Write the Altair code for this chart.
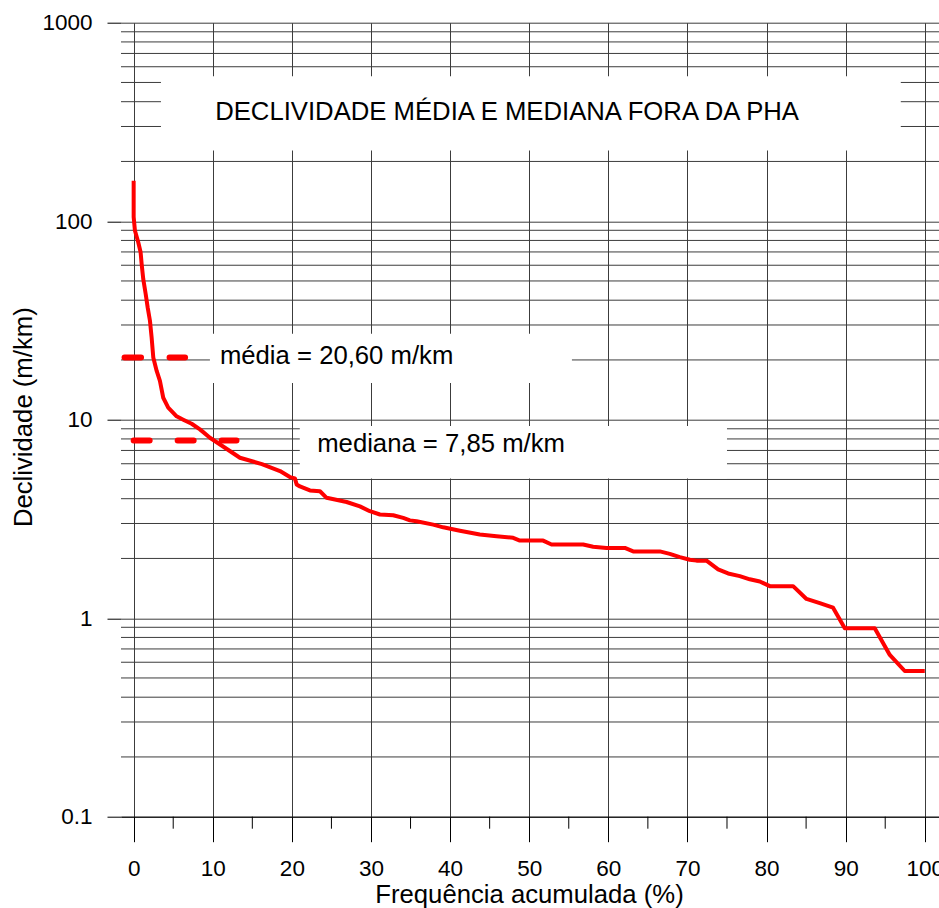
import altair as alt
import pandas as pd

# ---- data ----
freq = [0, 0, 0.16, 0.58, 0.88, 1.01, 1.21, 1.52, 1.77, 2.06,
        2.27, 2.48, 2.91, 3.32, 3.74, 4.37, 5.43, 6.27, 7.33, 8.38,
        9.64, 11.54, 13.43, 16.21, 18.50, 19.75, 20.38, 20.60, 21.02, 22.28,
        23.55, 24.39, 25.44, 26.92, 28.60, 29.86, 31.13, 32.81, 34.07, 34.92,
        35.76, 37.86, 39.13, 41.24, 43.76, 45.87, 47.97, 48.82, 51.76, 52.82,
        56.82, 58.08, 59.77, 62.09, 63.14, 66.51, 67.77, 69.04, 70.30, 71.15,
        72.41, 73.88, 75.14, 76.62, 77.88, 79.15, 80.41, 83.36, 85.05, 86.73,
        88.41, 89.89, 93.68, 95.58, 97.47, 100]
slope = [160, 105, 89.7, 78.3, 69.7, 60.9, 51.2, 43.0, 36.8, 31.5,
         26.0, 20.6, 17.6, 15.7, 12.9, 11.5, 10.4, 10.0, 9.54, 8.94,
         8.11, 7.22, 6.43, 5.97, 5.51, 5.14, 5.06, 4.72, 4.61, 4.40,
         4.36, 4.04, 3.96, 3.85, 3.66, 3.46, 3.33, 3.30, 3.20, 3.11,
         3.08, 2.96, 2.87, 2.76, 2.64, 2.59, 2.54, 2.46, 2.46, 2.35,
         2.35, 2.29, 2.26, 2.26, 2.17, 2.17, 2.11, 2.03, 1.97, 1.95,
         1.95, 1.76, 1.68, 1.63, 1.57, 1.53, 1.45, 1.45, 1.25, 1.19,
         1.13, 0.89, 0.89, 0.653, 0.542, 0.542]

mean_value = 20.60
median_value = 7.85
mean_extent = [-1.15, 6.5]
median_extent = [0.0, 13.0]

title_text = "DECLIVIDADE MÉDIA E MEDIANA FORA DA PHA"
title_pos = [47.2, 325]
notes = ["média = 20,60 m/km", "mediana = 7,85 m/km"]
notes_x = [10.9, 23.2]
notes_y = [19.0, 6.85]

box_x1 = [3.45, 9.64, 21.0]
box_x2 = [96.97, 55.4, 75.0]
box_y1 = [538, 27.1, 9.29]
box_y2 = [227, 15.3, 5.05]

x_major = list(range(0, 101, 10))
x_minor = list(range(5, 100, 10))
decades = [0.1, 1, 10, 100, 1000]
multipliers = [2, 3, 4, 5, 6, 7, 8, 9]
y_minor = [d * m for d in decades[:-1] for m in multipliers]

FONT = "Liberation Sans"
GRID = "#3c3c3c"
W, H = 818, 794
BIG = 25.7

xscale = alt.Scale(domain=[-1.6, 101.8], nice=False, zero=False)
yscale = alt.Scale(type="log", domain=[0.1, 1000], nice=False)

curve_df = pd.DataFrame({"x": freq, "y": slope, "i": range(len(freq))})
minor_df = pd.DataFrame({"y": y_minor})
xminor_df = pd.DataFrame({"x": x_minor})
box_df = pd.DataFrame({"x": box_x1, "x2": box_x2, "y": box_y1, "y2": box_y2})
notes_df = pd.DataFrame({"x": notes_x, "y": notes_y, "t": notes})
title_df = pd.DataFrame({"x": [title_pos[0]], "y": [title_pos[1]], "t": [title_text]})
mean_df = pd.DataFrame({"x": mean_extent, "y": [mean_value, mean_value]})
median_df = pd.DataFrame({"x": median_extent, "y": [median_value, median_value]})

x_axis = alt.Axis(values=x_major, tickSize=25, tickColor="#000", grid=True,
                  gridColor=GRID, gridWidth=1, domain=True, domainColor="#000",
                  labelFont=FONT, labelFontSize=22.5, labelColor="#000", labelPadding=16,
                  title="Frequência acumulada (%)", titleFont=FONT, titleFontSize=BIG,
                  titleFontWeight="normal", titleColor="#000", titleBaseline="alphabetic",
                  titleX=408, titleY=86, titleAlign="center")
y_axis = alt.Axis(values=decades, tickSize=14, tickColor="#000", grid=True,
                  gridColor=GRID, gridWidth=1, domain=False,
                  labelExpr="format(datum.value, '~g')",
                  labelFont=FONT, labelFontSize=22.5, labelColor="#000", labelPadding=15,
                  labelBaseline="middle",
                  title="Declividade (m/km)", titleFont=FONT, titleFontSize=BIG,
                  titleFontWeight="normal", titleColor="#000", titleAngle=270,
                  titleBaseline="alphabetic", titleAlign="center", titleX=-90, titleY=394)


def X(field):
    return alt.X(field, scale=xscale, axis=x_axis)


def Y(field):
    return alt.Y(field, scale=yscale, axis=y_axis)


minor_grid = alt.Chart(minor_df).mark_rule(color=GRID, strokeWidth=1).encode(
    y=Y("y:Q"))

minor_ticks = alt.Chart(xminor_df).mark_rule(color="#000", strokeWidth=1).encode(
    x=X("x:Q"), y=alt.value(H), y2=alt.value(H + 12))

boxes = alt.Chart(box_df).mark_rect(color="white", opacity=1).encode(
    x=X("x:Q"), x2="x2:Q", y=Y("y:Q"), y2="y2:Q")

title_layer = alt.Chart(title_df).mark_text(font=FONT, fontSize=BIG, align="center",
                                            baseline="alphabetic", color="#000").encode(
    x=X("x:Q"), y=Y("y:Q"), text="t:N")

notes_layer = alt.Chart(notes_df).mark_text(font=FONT, fontSize=BIG, align="left",
                                            baseline="alphabetic", color="#000").encode(
    x=X("x:Q"), y=Y("y:Q"), text="t:N")

mean_line = alt.Chart(mean_df).mark_line(color="red", strokeWidth=6, strokeCap="round",
                                         strokeDash=[16.5, 28.5]).encode(
    x=X("x:Q"), y=Y("y:Q"))

median_line = alt.Chart(median_df).mark_line(color="red", strokeWidth=6, strokeCap="round",
                                             strokeDash=[16, 28]).encode(
    x=X("x:Q"), y=Y("y:Q"))

curve = alt.Chart(curve_df).mark_line(color="#ff0000", strokeWidth=4, strokeJoin="round").encode(
    x=X("x:Q"), y=Y("y:Q"), order="i:Q")

chart = alt.layer(minor_grid, minor_ticks, boxes, title_layer, notes_layer,
                  mean_line, median_line, curve).properties(
    width=W, height=H,
    padding={"left": 121, "top": 22.7, "right": 0, "bottom": 91.3},
    autosize=alt.AutoSizeParams(type="none"),
    background="white",
).configure_view(stroke=None)

chart.save("out.html", embed_options={"renderer": "svg", "actions": False})
